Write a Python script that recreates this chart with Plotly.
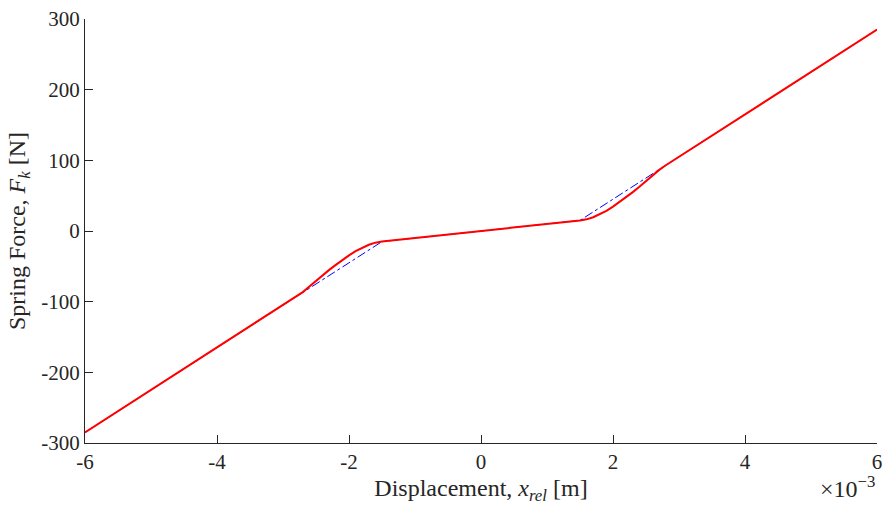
import plotly.graph_objects as go

# Red: smoothed spring force (x in m, F in N)
x_red = [-6.0e-3, -2.9e-3, -2.8e-3, -2.7e-3, -2.6e-3, -2.5e-3, -2.4e-3, -2.3e-3, -2.2e-3,
         -2.1e-3, -2.0e-3, -1.9e-3, -1.8e-3, -1.7e-3, -1.6e-3, -1.5e-3,
         1.5e-3, 1.6e-3, 1.7e-3, 1.8e-3, 1.9e-3, 2.0e-3, 2.1e-3, 2.2e-3, 2.3e-3,
         2.4e-3, 2.5e-3, 2.6e-3, 2.7e-3, 2.8e-3, 2.9e-3, 6.0e-3]
f_red = [-285, -99, -93, -86.5, -78.5, -70.5, -62.5, -55, -48,
         -41, -34.5, -28.5, -23.5, -19.5, -16.5, -15,
         15, 16.5, 19.5, 23.5, 28.5, 34.5, 41, 48, 55,
         62.5, 70.5, 78.5, 86.5, 93, 99, 285]

# Blue: piecewise linear model
x_blue = [-6.0e-3, -1.5e-3, 1.5e-3, 6.0e-3]
f_blue = [-285, -15, 15, 285]

x_ticks = [-6e-3, -4e-3, -2e-3, 0, 2e-3, 4e-3, 6e-3]
x_labels = ["-6", "-4", "-2", "0", "2", "4", "6"]
y_ticks = [-300, -200, -100, 0, 100, 200, 300]
y_labels = ["-300", "-200", "-100", "0", "100", "200", "300"]

FONT = "Liberation Serif"
TXT = "#262626"

fig = go.Figure()
fig.add_trace(go.Scatter(x=x_blue, y=f_blue, mode="lines",
                         line=dict(color="#0000ff", width=1, dash="dashdot"),
                         showlegend=False, hoverinfo="skip"))
fig.add_trace(go.Scatter(x=x_red, y=f_red, mode="lines",
                         line=dict(color="#ff0000", width=2),
                         showlegend=False))

fig.update_layout(
    width=882, height=505,
    margin=dict(l=85, r=5, t=19, b=62),
    paper_bgcolor="white", plot_bgcolor="white",
    font=dict(family=FONT, size=20, color=TXT),
    xaxis=dict(range=[-6e-3, 6e-3], tickvals=x_ticks, ticktext=x_labels, automargin=False,
               showgrid=False, zeroline=False, showline=True, linecolor=TXT, linewidth=1,
               ticks="inside", ticklen=8, tickcolor=TXT, tickfont=dict(size=21),
               ticklabeloverflow="allow",
               title=dict(text="Displacement, <i>x<sub>rel</sub></i> [m]", standoff=6)),
    yaxis=dict(range=[-300, 300], tickvals=y_ticks, ticktext=y_labels, automargin=False,
               showgrid=False, zeroline=False, showline=True, linecolor=TXT, linewidth=1,
               ticks="inside", ticklen=8, tickcolor=TXT, tickfont=dict(size=21),
               ticklabeloverflow="allow",
               title=dict(text="Spring Force, <i>F<sub>k</sub></i> [N]", standoff=8)),
    annotations=[dict(text="×10<sup>−3</sup>", xref="paper", yref="paper", x=1.0, y=-0.145,
                      xanchor="right", yanchor="bottom", showarrow=False,
                      font=dict(family=FONT, size=24, color=TXT))],
)

fig.write_html("out.html")
